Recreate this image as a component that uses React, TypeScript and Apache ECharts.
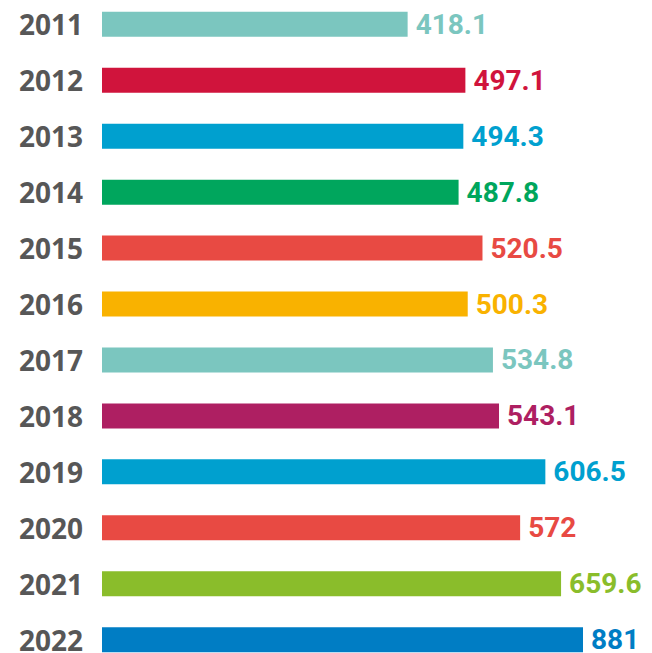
import React, { useEffect, useRef } from "react";
import * as echarts from "echarts";

const years = ["2011", "2012", "2013", "2014", "2015", "2016", "2017", "2018", "2019", "2020", "2021", "2022"];
const values = [418.1, 497.1, 494.3, 487.8, 520.5, 500.3, 534.8, 543.1, 606.5, 572, 659.6, 881];
const colors = [
  "#7bc6bf", "#d0143c", "#00a0cf", "#00a65d", "#e84a43", "#f9b200",
  "#7bc6bf", "#ae1f62", "#00a0cf", "#e84a43", "#8abd2b", "#007dc4",
];

export default function App() {
  const ref = useRef<HTMLDivElement>(null);
  useEffect(() => {
    if (!ref.current) return;
    const chart = echarts.init(ref.current, null, { renderer: "svg" });
    chart.setOption({
      animation: false,
      backgroundColor: "#ffffff",
      grid: { left: 102, width: 481, top: 16.4, height: 671.2 },
      xAxis: {
        type: "value",
        min: 0,
        max: 881,
        show: false,
        splitLine: { show: false },
        breaks: [{ start: 628, end: 851, gap: 0 }],
        breakArea: { show: false },
      },
      yAxis: {
        type: "category",
        data: years,
        inverse: true,
        axisLine: { show: false },
        axisTick: { show: false },
        axisLabel: {
          margin: 19,
          fontSize: 28,
          fontWeight: "bold",
          fontFamily: "Open Sans",
          color: "#575757",
        },
      },
      series: [
        {
          type: "bar",
          barWidth: 25,
          data: values.map((v, i) => ({
            value: v,
            itemStyle: { color: colors[i] },
            label: { color: colors[i] },
          })),
          label: {
            show: true,
            position: "right",
            distance: 8,
            fontSize: 28,
            fontWeight: "bold",
            fontFamily: "Roboto",
            formatter: "{c}",
          },
        },
      ],
    });
    return () => chart.dispose();
  }, []);
  return (
    <div style={{ position: "fixed", left: 0, top: 0, width: 652, height: 653, overflow: "hidden", background: "#fff" }}>
      <div
        ref={ref}
        style={{ position: "absolute", left: 0, top: -20, width: 652, height: 720 }}
      />
    </div>
  );
}
